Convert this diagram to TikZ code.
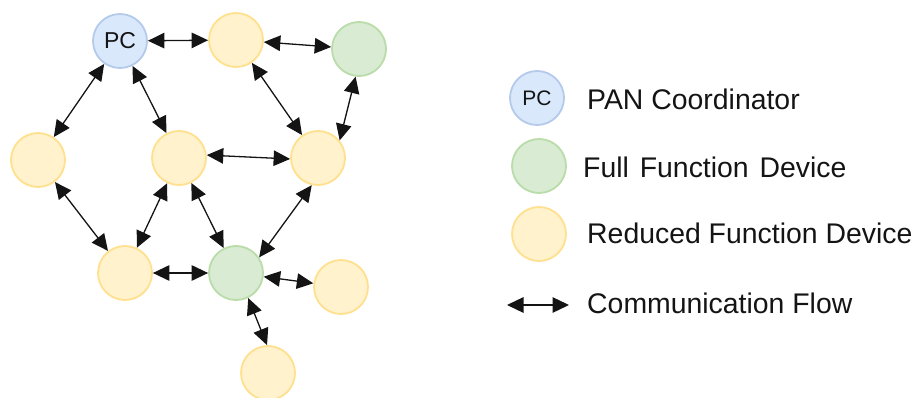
\documentclass[tikz,border=0pt]{standalone}
\usepackage{fontspec}
\setmainfont{Liberation Sans}
\usetikzlibrary{arrows.meta}

\definecolor{pcfill}{HTML}{DAE8FC}
\definecolor{pcline}{HTML}{B4CAEA}
\definecolor{fffill}{HTML}{D9EBD3}
\definecolor{ffline}{HTML}{B9DCA9}
\definecolor{rffill}{HTML}{FFF2CC}
\definecolor{rfline}{HTML}{FFE08E}
\definecolor{flowcol}{HTML}{141414}
\definecolor{txtcol}{HTML}{141414}

\tikzset{
  dev/.style={circle, minimum size=54pt, inner sep=0pt, line width=1.8pt},
  pan/.style={dev, fill=pcfill, draw=pcline, text=txtcol},
  ffd/.style={dev, fill=fffill, draw=ffline},
  rfd/.style={dev, fill=rffill, draw=rfline},
  flowtip/.tip={Triangle[length=16.5pt,width=15.5pt]},
  flow/.style={draw=flowcol, line width=1.3pt, flowtip-flowtip},
  legtext/.style={anchor=base west, inner sep=0pt, text=txtcol,
    font=\fontsize{28.4}{32}\selectfont}
}

\begin{document}
\begin{tikzpicture}[x=1pt, y=-1pt]
  \useasboundingbox (0,0) rectangle (917,398);

  % network devices
  \node[pan, font=\fontsize{23}{26}\selectfont] (pc) at (120,41) {PC};
  \node[rfd] (t)  at (236,40)  {};
  \node[ffd] (g1) at (359,49)  {};
  \node[rfd] (l)  at (38,160)  {};
  \node[rfd] (c)  at (179,158) {};
  \node[rfd] (r)  at (318,158) {};
  \node[rfd] (bl) at (125,273) {};
  \node[ffd] (g2) at (236,273) {};
  \node[rfd] (br) at (341,287) {};
  \node[rfd] (b)  at (268,373) {};

  % communication links
  \draw[flow] (pc) -- (t);
  \draw[flow] (t) -- (g1);
  \draw[flow] (pc) -- (l);
  \draw[flow] (pc) -- (c);
  \draw[flow] (t) -- (r);
  \draw[flow] (g1.263) -- (r.39);
  \draw[flow] (c.6) -- (r.182);
  \draw[flow] (l) -- (bl);
  \draw[flow] (c) -- (bl);
  \draw[flow] (c) -- (g2);
  \draw[flow] (r.257) -- (g2.34);
  \draw[flow] (bl) -- (g2);
  \draw[flow] (g2) -- (br);
  \draw[flow] (g2.-64) -- (b.92);

  % legend
  \node[pan, font=\fontsize{21}{24}\selectfont] (kpc) at (537,98) {PC};
  \node[ffd] (kff) at (539,166) {};
  \node[rfd] (krf) at (539,234) {};
  \coordinate (kfa) at (507,305);
  \coordinate (kfb) at (569,305);
  \draw[flow] (kfa) -- (kfb);

  \node[legtext] (tpc) at (587,110) {PAN Coordinator};
  \node[legtext] (tff) at (583,177) {Full\hspace{3pt} Function\hspace{3pt} Device};
  \node[legtext] (trf) at (587,243) {Reduced Function Device};
  \node[legtext] (tfl) at (587,313) {Communication Flow};
\end{tikzpicture}
\end{document}
